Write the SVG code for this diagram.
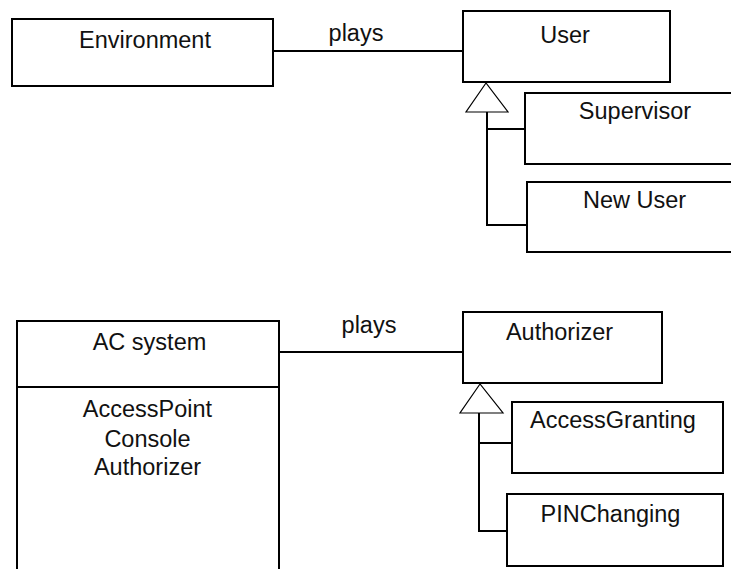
<svg xmlns="http://www.w3.org/2000/svg" width="731" height="569" viewBox="0 0 731 569">
  <style>
    .box { fill: #ffffff; stroke: #000000; stroke-width: 2; }
    .wire { fill: none; stroke: #000000; stroke-width: 2; }
    .gen { fill: #ffffff; stroke: #000000; stroke-width: 1.2; }
    text { font-family: "Liberation Sans", Arial, sans-serif; font-size: 23.5px; fill: #111111; text-anchor: middle; }
  </style>
  <rect width="731" height="569" fill="#ffffff"/>

  <!-- associations and generalization lines -->
  <g id="connectors">
    <line class="wire" x1="273" y1="51" x2="463" y2="51"/>
    <text x="356" y="41">plays</text>
    <line class="wire" x1="487" y1="112" x2="487" y2="225"/>
    <line class="wire" x1="487" y1="129" x2="525" y2="129"/>
    <line class="wire" x1="486" y1="225" x2="527" y2="225"/>
    <polygon class="gen" points="486,83 466,112 508,112"/>

    <line class="wire" x1="279" y1="352" x2="463" y2="352"/>
    <text x="369" y="333">plays</text>
    <line class="wire" x1="479" y1="413" x2="479" y2="531"/>
    <line class="wire" x1="479" y1="443" x2="512" y2="443"/>
    <line class="wire" x1="478" y1="531" x2="507" y2="531"/>
    <polygon class="gen" points="480,384 460,413 503,413"/>
  </g>

  <g id="environment">
    <rect class="box" x="12" y="19" width="261" height="67"/>
    <text x="145" y="48">Environment</text>
  </g>

  <g id="user">
    <rect class="box" x="463" y="11" width="207" height="71"/>
    <text x="565" y="43">User</text>
  </g>

  <g id="supervisor">
    <rect class="box" x="525" y="93" width="220" height="71"/>
    <text x="635" y="119">Supervisor</text>
  </g>

  <g id="new-user">
    <rect class="box" x="527" y="182" width="218" height="70"/>
    <text x="634.5" y="208">New User</text>
  </g>

  <g id="ac-system">
    <rect class="box" x="17" y="321" width="262" height="260"/>
    <line class="wire" x1="17" y1="387" x2="279" y2="387"/>
    <text x="149.5" y="350">AC system</text>
    <text x="147.5" y="417">AccessPoint</text>
    <text x="147.5" y="447">Console</text>
    <text x="147.5" y="475">Authorizer</text>
  </g>

  <g id="authorizer">
    <rect class="box" x="463" y="312" width="199" height="71"/>
    <text x="559.5" y="340">Authorizer</text>
  </g>

  <g id="access-granting">
    <rect class="box" x="512" y="402" width="211" height="71"/>
    <text x="613" y="428">AccessGranting</text>
  </g>

  <g id="pin-changing">
    <rect class="box" x="507" y="494" width="216" height="72"/>
    <text x="610.5" y="522">PINChanging</text>
  </g>
</svg>
